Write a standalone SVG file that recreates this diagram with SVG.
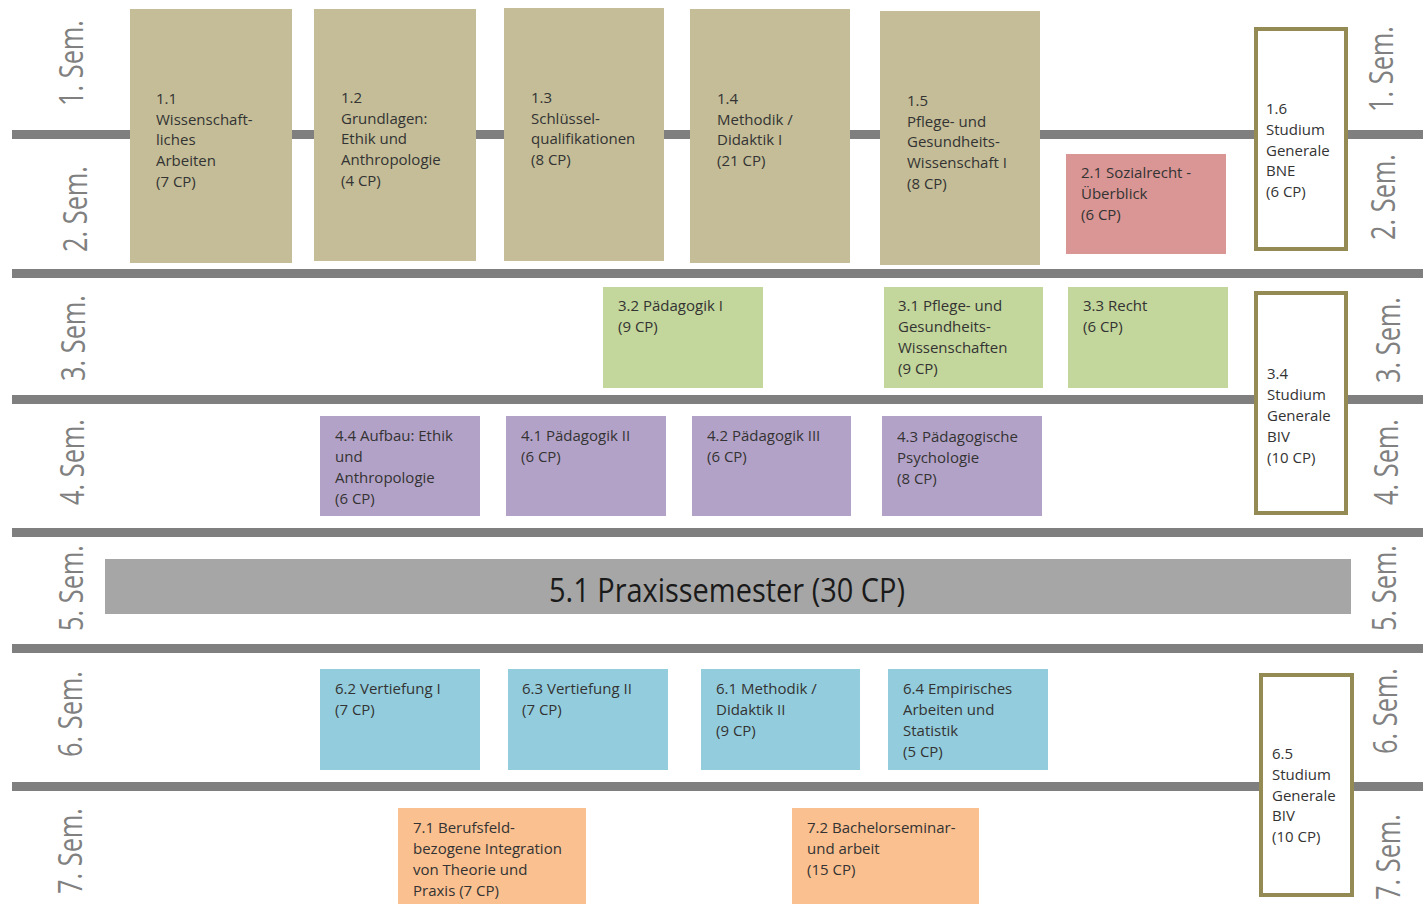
<svg xmlns="http://www.w3.org/2000/svg" width="1423" height="904" viewBox="0 0 1423 904">
<style>
.line{fill:#7f7f7f}
.sem{font-family:"Open Sans","DejaVu Sans",sans-serif;font-size:32px;fill:#808080;text-anchor:middle}
.t{font-family:"Open Sans","Liberation Sans",sans-serif;font-size:15px;fill:#333333}
.tan{fill:#c4bd97}
.red{fill:#d99694}
.green{fill:#c3d69b}
.purple{fill:#b3a2c7}
.blue{fill:#93cddd}
.orange{fill:#fac090}
.sg{fill:#ffffff;stroke:#948a54;stroke-width:4}
.big{font-family:"Open Sans","DejaVu Sans",sans-serif;font-size:33px;fill:#1a1a1a;text-anchor:middle}
</style>
<rect width="1423" height="904" fill="#ffffff"/>
<g id="connectors">
<rect class="line" x="12" y="130" width="1411" height="9"/>
<rect class="line" x="12" y="269" width="1411" height="9"/>
<rect class="line" x="12" y="395" width="1411" height="9"/>
<rect class="line" x="12" y="528" width="1411" height="9"/>
<rect class="line" x="12" y="644" width="1411" height="9"/>
<rect class="line" x="12" y="782" width="1411" height="9"/>
</g>
<g id="sem-labels">
<text class="sem" transform="translate(83,63) rotate(-90)" textLength="86" lengthAdjust="spacingAndGlyphs">1. Sem.</text>
<text class="sem" transform="translate(87,209) rotate(-90)" textLength="86" lengthAdjust="spacingAndGlyphs">2. Sem.</text>
<text class="sem" transform="translate(85,338) rotate(-90)" textLength="86" lengthAdjust="spacingAndGlyphs">3. Sem.</text>
<text class="sem" transform="translate(84,462) rotate(-90)" textLength="86" lengthAdjust="spacingAndGlyphs">4. Sem.</text>
<text class="sem" transform="translate(83,588) rotate(-90)" textLength="86" lengthAdjust="spacingAndGlyphs">5. Sem.</text>
<text class="sem" transform="translate(82,714) rotate(-90)" textLength="86" lengthAdjust="spacingAndGlyphs">6. Sem.</text>
<text class="sem" transform="translate(82,851) rotate(-90)" textLength="86" lengthAdjust="spacingAndGlyphs">7. Sem.</text>
<text class="sem" transform="translate(1393,69) rotate(-90)" textLength="86" lengthAdjust="spacingAndGlyphs">1. Sem.</text>
<text class="sem" transform="translate(1395,197) rotate(-90)" textLength="86" lengthAdjust="spacingAndGlyphs">2. Sem.</text>
<text class="sem" transform="translate(1400,340) rotate(-90)" textLength="86" lengthAdjust="spacingAndGlyphs">3. Sem.</text>
<text class="sem" transform="translate(1398,462) rotate(-90)" textLength="86" lengthAdjust="spacingAndGlyphs">4. Sem.</text>
<text class="sem" transform="translate(1396,588) rotate(-90)" textLength="86" lengthAdjust="spacingAndGlyphs">5. Sem.</text>
<text class="sem" transform="translate(1397,711) rotate(-90)" textLength="86" lengthAdjust="spacingAndGlyphs">6. Sem.</text>
<text class="sem" transform="translate(1400,857) rotate(-90)" textLength="86" lengthAdjust="spacingAndGlyphs">7. Sem.</text>
</g>
<g id="m1-1"><rect class="tan" x="130" y="9" width="162" height="254"/>
<text class="t" x="156" y="104"><tspan x="156">1.1</tspan><tspan x="156" dy="20.7">Wissenschaft-</tspan><tspan x="156" dy="20.7">liches</tspan><tspan x="156" dy="20.7">Arbeiten</tspan><tspan x="156" dy="20.7">(7 CP)</tspan></text></g>
<g id="m1-2"><rect class="tan" x="314" y="9" width="162" height="252"/>
<text class="t" x="341" y="103"><tspan x="341">1.2</tspan><tspan x="341" dy="20.7">Grundlagen:</tspan><tspan x="341" dy="20.7">Ethik und</tspan><tspan x="341" dy="20.7">Anthropologie</tspan><tspan x="341" dy="20.7">(4 CP)</tspan></text></g>
<g id="m1-3"><rect class="tan" x="504" y="8" width="160" height="253"/>
<text class="t" x="531" y="103"><tspan x="531">1.3</tspan><tspan x="531" dy="20.7">Schlüssel-</tspan><tspan x="531" dy="20.7">qualifikationen</tspan><tspan x="531" dy="20.7">(8 CP)</tspan></text></g>
<g id="m1-4"><rect class="tan" x="690" y="9" width="160" height="254"/>
<text class="t" x="717" y="104"><tspan x="717">1.4</tspan><tspan x="717" dy="20.7">Methodik /</tspan><tspan x="717" dy="20.7">Didaktik I</tspan><tspan x="717" dy="20.7">(21 CP)</tspan></text></g>
<g id="m1-5"><rect class="tan" x="880" y="11" width="160" height="254"/>
<text class="t" x="907" y="106"><tspan x="907">1.5</tspan><tspan x="907" dy="20.7">Pflege- und</tspan><tspan x="907" dy="20.7">Gesundheits-</tspan><tspan x="907" dy="20.7">Wissenschaft I</tspan><tspan x="907" dy="20.7">(8 CP)</tspan></text></g>
<g id="m2-1"><rect class="red" x="1066" y="154" width="160" height="100"/>
<text class="t" x="1081" y="178"><tspan x="1081">2.1 Sozialrecht -</tspan><tspan x="1081" dy="21">Überblick</tspan><tspan x="1081" dy="21">(6 CP)</tspan></text></g>
<g id="m1-6"><rect class="sg" x="1256" y="29" width="90" height="220"/>
<text class="t" x="1266" y="114"><tspan x="1266">1.6</tspan><tspan x="1266" dy="20.8">Studium</tspan><tspan x="1266" dy="20.8">Generale</tspan><tspan x="1266" dy="20.8">BNE</tspan><tspan x="1266" dy="20.8">(6 CP)</tspan></text></g>
<g id="m3-2"><rect class="green" x="603" y="287" width="160" height="101"/>
<text class="t" x="618" y="311"><tspan x="618">3.2 Pädagogik I</tspan><tspan x="618" dy="21">(9 CP)</tspan></text></g>
<g id="m3-1"><rect class="green" x="884" y="287" width="159" height="101"/>
<text class="t" x="898" y="311"><tspan x="898">3.1 Pflege- und</tspan><tspan x="898" dy="21">Gesundheits-</tspan><tspan x="898" dy="21">Wissenschaften</tspan><tspan x="898" dy="21">(9 CP)</tspan></text></g>
<g id="m3-3"><rect class="green" x="1068" y="287" width="160" height="101"/>
<text class="t" x="1083" y="311"><tspan x="1083">3.3 Recht</tspan><tspan x="1083" dy="21">(6 CP)</tspan></text></g>
<g id="m3-4"><rect class="sg" x="1256" y="293" width="90" height="220"/>
<text class="t" x="1267" y="379"><tspan x="1267">3.4</tspan><tspan x="1267" dy="21">Studium</tspan><tspan x="1267" dy="21">Generale</tspan><tspan x="1267" dy="21">BIV</tspan><tspan x="1267" dy="21">(10 CP)</tspan></text></g>
<g id="m4-4"><rect class="purple" x="320" y="416" width="160" height="100"/>
<text class="t" x="335" y="441"><tspan x="335">4.4 Aufbau: Ethik</tspan><tspan x="335" dy="21">und</tspan><tspan x="335" dy="21">Anthropologie</tspan><tspan x="335" dy="21">(6 CP)</tspan></text></g>
<g id="m4-1"><rect class="purple" x="506" y="416" width="160" height="100"/>
<text class="t" x="521" y="441"><tspan x="521">4.1 Pädagogik II</tspan><tspan x="521" dy="21">(6 CP)</tspan></text></g>
<g id="m4-2"><rect class="purple" x="692" y="416" width="159" height="100"/>
<text class="t" x="707" y="441"><tspan x="707">4.2 Pädagogik III</tspan><tspan x="707" dy="21">(6 CP)</tspan></text></g>
<g id="m4-3"><rect class="purple" x="882" y="416" width="160" height="100"/>
<text class="t" x="897" y="442"><tspan x="897">4.3 Pädagogische</tspan><tspan x="897" dy="21">Psychologie</tspan><tspan x="897" dy="21">(8 CP)</tspan></text></g>
<g id="m5-1"><rect x="105" y="559" width="1246" height="55" fill="#a6a6a6"/>
<text class="big" x="727" y="602" textLength="356" lengthAdjust="spacingAndGlyphs">5.1 Praxissemester (30 CP)</text></g>
<g id="m6-2"><rect class="blue" x="320" y="669" width="160" height="101"/>
<text class="t" x="335" y="694"><tspan x="335">6.2 Vertiefung I</tspan><tspan x="335" dy="21">(7 CP)</tspan></text></g>
<g id="m6-3"><rect class="blue" x="508" y="669" width="160" height="101"/>
<text class="t" x="522" y="694"><tspan x="522">6.3 Vertiefung II</tspan><tspan x="522" dy="21">(7 CP)</tspan></text></g>
<g id="m6-1"><rect class="blue" x="701" y="669" width="159" height="101"/>
<text class="t" x="716" y="694"><tspan x="716">6.1 Methodik /</tspan><tspan x="716" dy="21">Didaktik II</tspan><tspan x="716" dy="21">(9 CP)</tspan></text></g>
<g id="m6-4"><rect class="blue" x="888" y="669" width="160" height="101"/>
<text class="t" x="903" y="694"><tspan x="903">6.4 Empirisches</tspan><tspan x="903" dy="21">Arbeiten und</tspan><tspan x="903" dy="21">Statistik</tspan><tspan x="903" dy="21">(5 CP)</tspan></text></g>
<g id="m6-5"><rect class="sg" x="1261" y="675" width="91" height="220"/>
<text class="t" x="1272" y="759"><tspan x="1272">6.5</tspan><tspan x="1272" dy="20.8">Studium</tspan><tspan x="1272" dy="20.8">Generale</tspan><tspan x="1272" dy="20.8">BIV</tspan><tspan x="1272" dy="20.8">(10 CP)</tspan></text></g>
<g id="m7-1"><rect class="orange" x="398" y="808" width="188" height="96"/>
<text class="t" x="413" y="833"><tspan x="413">7.1 Berufsfeld-</tspan><tspan x="413" dy="21">bezogene Integration</tspan><tspan x="413" dy="21">von Theorie und</tspan><tspan x="413" dy="21">Praxis (7 CP)</tspan></text></g>
<g id="m7-2"><rect class="orange" x="792" y="808" width="187" height="96"/>
<text class="t" x="807" y="833"><tspan x="807">7.2 Bachelorseminar-</tspan><tspan x="807" dy="21">und arbeit</tspan><tspan x="807" dy="21">(15 CP)</tspan></text></g>
</svg>
